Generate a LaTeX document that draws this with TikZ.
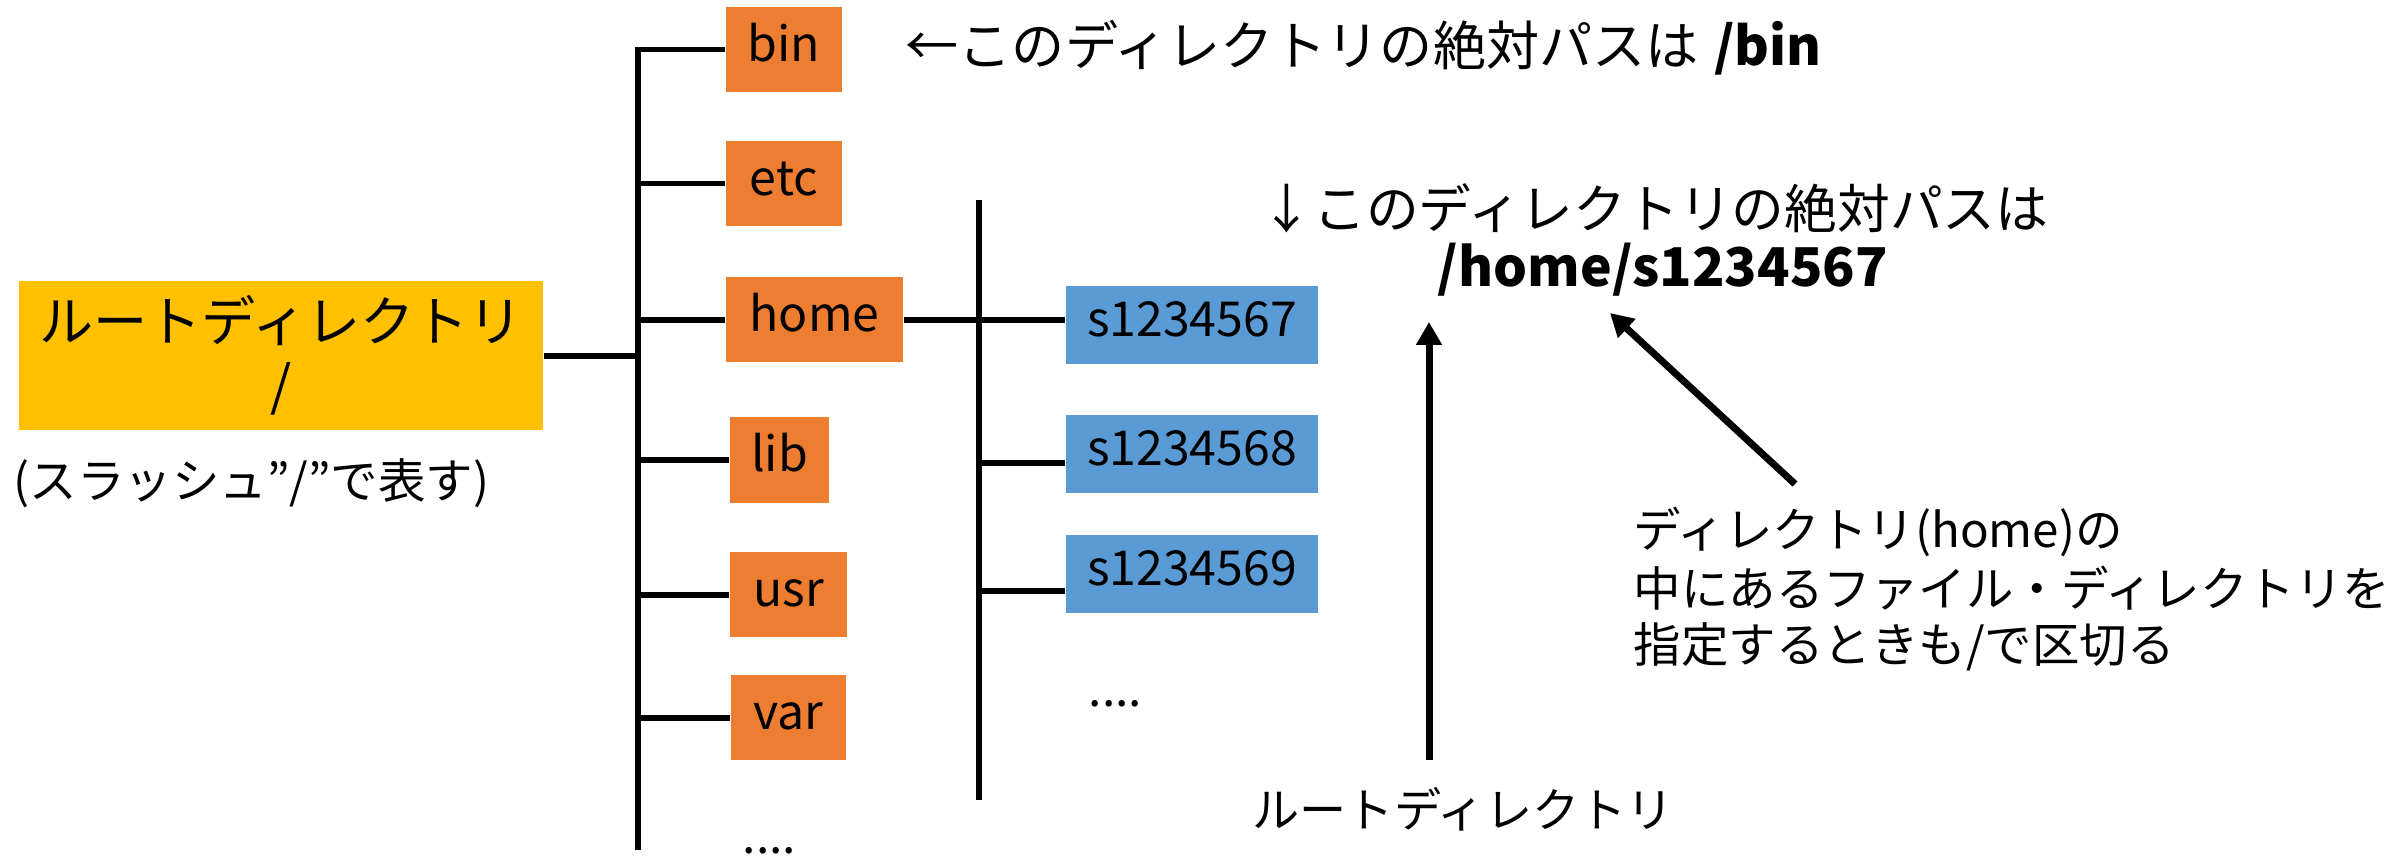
\documentclass[tikz,border=0pt]{standalone}
\usepackage{fontspec}
\setmainfont{Noto Sans CJK JP}
\usetikzlibrary{arrows.meta}
\definecolor{rootc}{HTML}{FFC000}
\definecolor{dirc}{HTML}{ED7D31}
\definecolor{userc}{HTML}{5B9BD5}
\begin{document}
\begin{tikzpicture}[x=0.01cm,y=-0.01cm,
  treeline/.style={line width=1.7pt},
  rootbox/.style={fill=rootc, inner sep=0pt, minimum width=5.24cm, minimum height=1.49cm,
    align=center, font=\fontsize{15.4}{18.2}\selectfont},
  dirbox/.style={fill=dirc, inner sep=0pt, minimum height=0.85cm,
    font=\fontsize{13.7}{16}\selectfont, text height=0.72em, text depth=0.05em},
  userbox/.style={fill=userc, inner sep=0pt, minimum width=2.52cm, minimum height=0.78cm,
    font=\fontsize{13.7}{16}\selectfont, text height=0.72em, text depth=0.05em},
  txt/.style={inner sep=0pt, anchor=west},
  dots/.style={inner sep=0pt, anchor=base west, font=\fontsize{13.7}{16}\selectfont},
  pointer/.style={line width=2pt, -{Triangle[length=6.5pt,width=7pt]}}
]
\useasboundingbox (0,0) rectangle (2404,857);

% root
\node[rootbox] (root) at (281,355.5) {ルートディレクトリ\\/};
\node[txt, font=\fontsize{13.5}{16}\selectfont] (caption) at (13,483) {(スラッシュ”/”で表す)};

% first level
\node[dirbox, minimum width=1.16cm] (bin)  at (784,49.5)  {bin};
\node[dirbox, minimum width=1.16cm] (etc)  at (784,183.5) {etc};
\node[dirbox, minimum width=1.77cm] (home) at (814.5,319.5) {home};
\node[dirbox, minimum width=0.99cm, minimum height=0.86cm] (lib) at (779.5,460) {lib};
\node[dirbox, minimum width=1.17cm] (usr)  at (788.5,594.5) {usr};
\node[dirbox, minimum width=1.15cm] (var)  at (788.5,717.5) {var};
\node[dots] (more1) at (742,853) {....};

\coordinate (v1bot) at (638,850);
\draw[treeline] (bin.west) -| (v1bot);
\draw[treeline] (etc.west) -- (etc.west -| v1bot);
\draw[treeline] (home.west) -- (home.west -| v1bot);
\draw[treeline] (lib.west) -- (lib.west -| v1bot);
\draw[treeline] (usr.west) -- (usr.west -| v1bot);
\draw[treeline] (var.west) -- (var.west -| v1bot);
\draw[treeline] (root.east) -- (root.east -| v1bot);

% second level
\node[userbox] (s1) at (1192,325) {s1234567};
\node[userbox] (s2) at (1192,454) {s1234568};
\node[userbox] (s3) at (1192,574) {s1234569};
\node[dots] (more2) at (1088,706) {....};

\coordinate (v2top) at (979,200);
\coordinate (v2bot) at (979,800);
\draw[treeline] (v2top) -- (v2bot);
\draw[treeline] (home.east) -- (home.east -| s1.west);
\coordinate (s2in) at ([yshift=-0.09cm]s2.west);
\coordinate (s3in) at ([yshift=-0.17cm]s3.west);
\draw[treeline] (s2in) -- (s2in -| v2top);
\draw[treeline] (s3in) -- (s3in -| v2top);

% annotations
\node[txt, font=\fontsize{15.1}{18}\selectfont] (binpath) at (905,48)
  {←このディレクトリの絶対パスは\hspace{0.3em}\textbf{/bin}};
\node[txt, font=\fontsize{15}{18}\selectfont] (homehead) at (1260,208)
  {↓このディレクトリの絶対パスは};
\node[txt, font=\bfseries\fontsize{15.2}{18}\selectfont] (homepath) at (1437,270)
  {/home/s1234567};

\node[txt, font=\fontsize{13.5}{16}\selectfont] (note1) at (1633,532) {ディレクトリ(home)の};
\node[txt, font=\fontsize{13.5}{16}\selectfont] (note2) at (1633,588) {中にあるファイル・ディレクトリを};
\node[txt, font=\fontsize{13.5}{16}\selectfont] (note3) at (1633,647) {指定するときも/で区切る};

\node[txt, font=\fontsize{13.4}{16}\selectfont] (rootlabel) at (1252,809) {ルートディレクトリ};

\coordinate (upTail) at (1429,760);
\coordinate (upTip) at (1429,322);
\draw[pointer] (upTail) -- (upTip);
\coordinate (diagTail) at (1795,484);
\coordinate (diagTip) at (1610,313);
\draw[pointer] (diagTail) -- (diagTip);
\end{tikzpicture}
\end{document}
